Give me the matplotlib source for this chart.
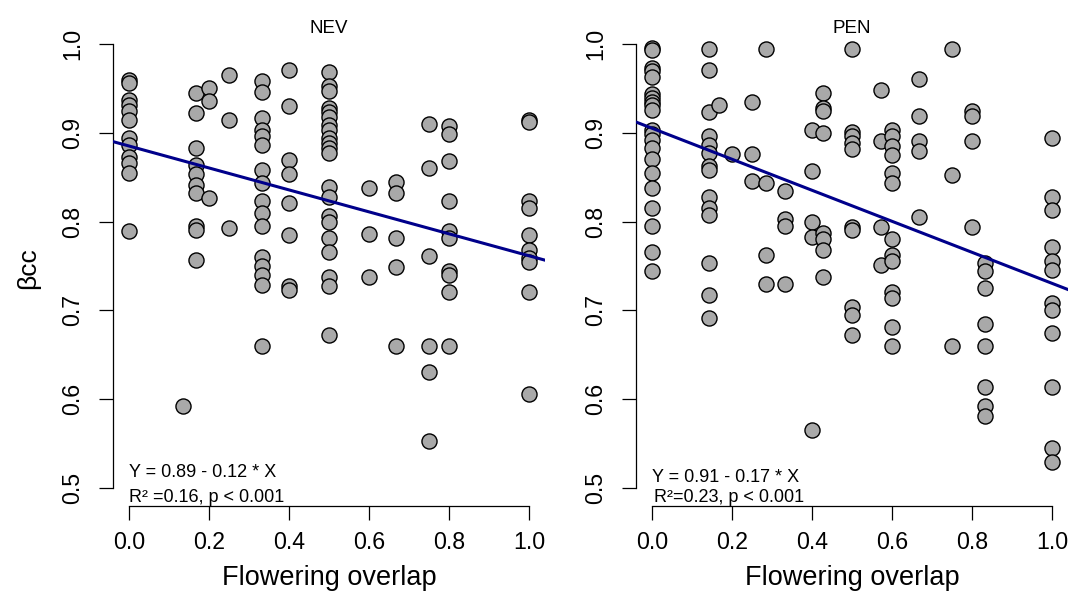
import matplotlib
matplotlib.use("Agg")
import matplotlib.pyplot as plt
import numpy as np

plt.rcParams['font.family'] = ['Liberation Sans', 'DejaVu Sans']

# NEV: flowering overlap vs beta_cc, one list of y values per overlap column
nev_x = [0.0, 0.136, 1/6, 0.2, 0.25, 1/3, 0.4, 0.5, 0.6, 2/3, 0.75, 0.8, 1.0]
nev_y = [
    [0.959, 0.956, 0.937, 0.931, 0.924, 0.914, 0.894, 0.886, 0.873, 0.866, 0.855, 0.789],
    [0.593],
    [0.945, 0.922, 0.883, 0.864, 0.853, 0.841, 0.832, 0.795, 0.791, 0.757],
    [0.950, 0.936, 0.826],
    [0.965, 0.914, 0.793],
    [0.958, 0.946, 0.916, 0.903, 0.896, 0.886, 0.858, 0.843, 0.823, 0.810, 0.795,
     0.760, 0.750, 0.740, 0.729, 0.660],
    [0.971, 0.930, 0.869, 0.854, 0.821, 0.785, 0.728, 0.723],
    [0.968, 0.953, 0.947, 0.928, 0.923, 0.918, 0.909, 0.903, 0.894, 0.888, 0.883,
     0.877, 0.839, 0.828, 0.806, 0.800, 0.781, 0.766, 0.738, 0.728, 0.672],
    [0.838, 0.786, 0.738],
    [0.845, 0.832, 0.781, 0.749, 0.660],
    [0.910, 0.860, 0.761, 0.660, 0.631, 0.553],
    [0.907, 0.898, 0.868, 0.823, 0.789, 0.781, 0.744, 0.740, 0.721, 0.660],
    [0.914, 0.912, 0.823, 0.815, 0.785, 0.768, 0.759, 0.754, 0.721, 0.606],
]

# PEN
pen_x = [0.0, 1/7, 1/6, 0.2, 0.25, 2/7, 1/3, 0.4, 3/7, 0.5, 4/7, 0.6, 2/3, 0.75, 0.8, 5/6, 1.0]
pen_y = [
    [0.995, 0.993, 0.973, 0.969, 0.963, 0.943, 0.939, 0.935, 0.931, 0.926, 0.903,
     0.898, 0.892, 0.883, 0.870, 0.855, 0.838, 0.815, 0.795, 0.766, 0.744],
    [0.994, 0.971, 0.923, 0.896, 0.886, 0.877, 0.862, 0.858, 0.828, 0.815, 0.807,
     0.753, 0.717, 0.691],
    [0.931],
    [0.876],
    [0.935, 0.876, 0.846],
    [0.994, 0.843, 0.762, 0.730],
    [0.834, 0.803, 0.795, 0.730],
    [0.903, 0.857, 0.800, 0.783, 0.565],
    [0.945, 0.928, 0.924, 0.900, 0.787, 0.780, 0.768, 0.738],
    [0.994, 0.901, 0.896, 0.888, 0.882, 0.794, 0.790, 0.704, 0.695, 0.672],
    [0.948, 0.891, 0.794, 0.751],
    [0.903, 0.896, 0.885, 0.875, 0.855, 0.843, 0.780, 0.762, 0.756, 0.721, 0.714,
     0.681, 0.660],
    [0.960, 0.919, 0.891, 0.879, 0.805],
    [0.994, 0.852, 0.660],
    [0.924, 0.919, 0.891, 0.794],
    [0.753, 0.744, 0.725, 0.685, 0.660, 0.614, 0.592, 0.581],
    [0.894, 0.828, 0.813, 0.771, 0.756, 0.745, 0.708, 0.700, 0.675, 0.614, 0.545, 0.530],
]

# fitted lines (intercept, slope) and R2
nev_fit = (0.885, -0.1235, 0.16)
pen_fit = (0.905, -0.1745, 0.23)


def flatten(xs, ys):
    px, py = [], []
    for x, col in zip(xs, ys):
        px += [x] * len(col)
        py += col
    return np.array(px), np.array(py)


def panel(ax, xs, ys, fit, title, eq_y, r2_text, r2_dx):
    x, y = flatten(xs, ys)
    a, b, r2 = fit
    ax.scatter(x, y, s=118, c='#A9A9A9', edgecolors='black', linewidths=1.0, zorder=3)
    lx = np.array([-0.04, 1.04])
    ax.plot(lx, a + b * lx, color='#00008B', lw=2.2, zorder=4)

    ax.set_xlim(-0.04, 1.04)
    ax.set_ylim(0.48, 1.02)
    for s in ['top', 'right']:
        ax.spines[s].set_visible(False)
    ax.spines['left'].set_bounds(0.5, 1.0)
    ax.spines['bottom'].set_bounds(0.0, 1.0)
    for s in ['left', 'bottom']:
        ax.spines[s].set_linewidth(0.9)
    ax.set_xticks(np.arange(0, 1.01, 0.2))
    ax.set_yticks(np.arange(0.5, 1.01, 0.1))
    ax.set_xticklabels([f"{t:.1f}" for t in np.arange(0, 1.01, 0.2)])
    ax.set_yticklabels([f"{t:.1f}" for t in np.arange(0.5, 1.01, 0.1)],
                       rotation=90, va='center')
    ax.tick_params(axis='both', length=10, width=0.9, labelsize=16.7)
    ax.tick_params(axis='x', pad=8)
    ax.tick_params(axis='y', pad=11)
    ax.set_xlabel("Flowering overlap", fontsize=19.5, labelpad=8)
    ax.text(0.5, 1.0125, title, fontsize=13.5, ha='center', va='baseline',
            transform=ax.get_yaxis_transform())

    ax.text(0.0, eq_y, f"Y = {a:.2f} - {abs(b):.2f} * X", fontsize=13,
            ha='left', va='baseline')
    ax.text(r2_dx, 0.484, r2_text.format(r2=r2), fontsize=13,
            ha='left', va='baseline')


fig = plt.figure(figsize=(10.83, 5.94), dpi=100)
ax1 = fig.add_axes([113 / 1083, 88 / 594, 432 / 1083, 480 / 594])
ax2 = fig.add_axes([636 / 1083, 88 / 594, 432 / 1083, 480 / 594])

panel(ax1, nev_x, nev_y, nev_fit, "NEV", 0.5126, "R² ={r2:.2f}, p < 0.001", 0.0)
panel(ax2, pen_x, pen_y, pen_fit, "PEN", 0.507, "R²={r2:.2f}, p < 0.001", 0.006)
fig.text(28 / 1083, 1 - 268 / 594, "βcc", fontsize=19, rotation=90,
         ha='center', va='center')

fig.savefig("out.png", dpi=100)
